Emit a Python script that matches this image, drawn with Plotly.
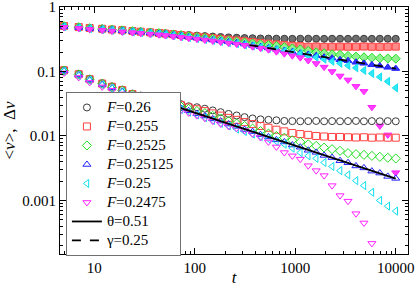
import plotly.graph_objects as go

# time points
t = [5, 7, 9, 12, 15, 19, 24, 29, 36, 44, 51, 61, 73, 87, 105, 126, 151, 181, 217, 261,
     313, 376, 451, 541, 649, 779, 935, 1122, 1346, 1615, 1938, 2326, 2791, 3349, 4019,
     4823, 5787, 6944, 8333, 10000]

F_labels = ["0.26", "0.255", "0.2525", "0.25125", "0.25", "0.2475"]

# <v> (lower family, open symbols)
avg_F026 = [0.106, 0.0922, 0.0772, 0.0660, 0.0588, 0.0523, 0.0454, 0.0423, 0.0395, 0.0370,
            0.0345, 0.0328, 0.0311, 0.0289, 0.0279, 0.0265, 0.0249, 0.0234, 0.0220, 0.0208,
            0.0196, 0.0187, 0.0181, 0.0178, 0.0175, 0.0171, 0.0170, 0.0169, 0.0170, 0.0171,
            0.0169, 0.0170, 0.0169, 0.0170, 0.0171, 0.0169, 0.0170, 0.0169, 0.0170, 0.0169]
avg_F0255 = [0.1043, 0.0906, 0.0759, 0.0649, 0.0578, 0.0514, 0.0446, 0.0412, 0.0386, 0.0362,
             0.0340, 0.0319, 0.0300, 0.0277, 0.0260, 0.0243, 0.0224, 0.0207, 0.0191, 0.0178,
             0.0164, 0.0153, 0.0143, 0.0134, 0.0125, 0.0118, 0.0111, 0.0107, 0.0104, 0.0100,
             0.00982, 0.00966, 0.00966, 0.00955, 0.00948, 0.00955, 0.00941, 0.00948, 0.00941, 0.00941]
avg_F02525 = [0.1036, 0.0899, 0.0753, 0.0643, 0.0568, 0.0505, 0.0440, 0.0405, 0.0378, 0.0356,
              0.0331, 0.0309, 0.0286, 0.0263, 0.0244, 0.0226, 0.0205, 0.0187, 0.0170, 0.0156,
              0.0143, 0.0130, 0.0119, 0.0109, 0.0100, 0.00941, 0.00859, 0.00809, 0.00745, 0.00702,
              0.00661, 0.00624, 0.00588, 0.00542, 0.00523, 0.00510, 0.00492, 0.00475, 0.00459, 0.00448]
avg_F025125 = [0.1025, 0.0884, 0.0740, 0.0631, 0.0557, 0.0492, 0.0428, 0.0394, 0.0368, 0.0346,
               0.0321, 0.0296, 0.0267, 0.0246, 0.0222, 0.0204, 0.0184, 0.0170, 0.0153, 0.0141,
               0.0126, 0.0117, 0.0105, 0.00970, 0.00872, 0.00808, 0.00724, 0.00670, 0.00600, 0.00557,
               0.00499, 0.00463, 0.00414, 0.00385, 0.00343, 0.00320, 0.00285, 0.00266, 0.00236, 0.00220]
avg_F025 = [0.1014, 0.0868, 0.0727, 0.0620, 0.0547, 0.0482, 0.0417, 0.0384, 0.0356, 0.0334,
            0.0313, 0.0284, 0.0258, 0.0234, 0.0212, 0.0192, 0.0174, 0.0157, 0.0143, 0.0128,
            0.0117, 0.0107, 0.00982, 0.00899, 0.00823, 0.00745, 0.00647, 0.00553, 0.00492, 0.00448,
            0.00388, 0.00337, 0.00290, 0.00249, 0.00203, 0.00170, 0.00134, 0.00100, 0.000817, 0.000684]
avg_F02475 = [0.0948, 0.0809, 0.0677, 0.0578, 0.0510, 0.0449, 0.0388, 0.0358, 0.0330, 0.0313,
              0.0294, 0.0277, 0.0251, 0.0228, 0.0207, 0.0188, 0.0170, 0.0154, 0.0141, 0.0132,
              0.0122, 0.0108, 0.00948, 0.00809, 0.00677, 0.00553, 0.00492, 0.00438, 0.00346, 0.00290,
              0.00243, 0.00170, 0.00119, 0.000976, 0.000624, 0.000448, 0.000216, None, None, None]

# Delta v (upper family, filled symbols)
dv_F026 = [0.510, 0.492, 0.475, 0.462, 0.451, 0.440, 0.428, 0.417, 0.407, 0.398,
           0.390, 0.382, 0.374, 0.367, 0.360, 0.354, 0.348, 0.343, 0.338, 0.334,
           0.330, 0.328, 0.325, 0.324, 0.323, 0.322, 0.321, 0.322, 0.323, 0.322,
           0.321, 0.322, 0.322, 0.321, 0.323, 0.322, 0.321, 0.322, 0.322, 0.321]
dv_F0255 = [0.507, 0.489, 0.472, 0.459, 0.447, 0.437, 0.424, 0.414, 0.404, 0.395,
            0.387, 0.378, 0.368, 0.358, 0.348, 0.338, 0.329, 0.320, 0.311, 0.302,
            0.294, 0.285, 0.277, 0.270, 0.262, 0.256, 0.251, 0.247, 0.242, 0.244,
            0.241, 0.242, 0.243, 0.242, 0.242, 0.244, 0.242, 0.241, 0.242, 0.243]
dv_F02525 = [0.503, 0.486, 0.469, 0.455, 0.444, 0.433, 0.421, 0.411, 0.401, 0.393,
             0.384, 0.374, 0.363, 0.352, 0.341, 0.330, 0.320, 0.310, 0.300, 0.290,
             0.281, 0.272, 0.264, 0.256, 0.248, 0.238, 0.228, 0.220, 0.208, 0.198,
             0.191, 0.185, 0.181, 0.174, 0.170, 0.166, 0.163, 0.160, 0.159, 0.158]
dv_F025125 = [0.499, 0.482, 0.465, 0.452, 0.441, 0.429, 0.417, 0.407, 0.397, 0.388,
              0.380, 0.368, 0.356, 0.343, 0.331, 0.320, 0.308, 0.298, 0.288, 0.279,
              0.266, 0.254, 0.242, 0.231, 0.221, 0.211, 0.202, 0.192, 0.184, 0.176,
              0.167, 0.161, 0.152, 0.147, 0.139, 0.134, 0.127, 0.122, 0.116, 0.111]
dv_F025 = [0.496, 0.479, 0.462, 0.449, 0.437, 0.424, 0.412, 0.402, 0.393, 0.384,
           0.374, 0.361, 0.348, 0.336, 0.324, 0.313, 0.302, 0.292, 0.280, 0.270,
           0.259, 0.249, 0.238, 0.227, 0.218, 0.207, 0.198, 0.188, 0.176, 0.166,
           0.155, 0.144, 0.134, 0.124, 0.114, 0.104, 0.0932, 0.0823, 0.0702, 0.0557]
dv_F02475 = [0.484, 0.467, 0.451, 0.437, 0.424, 0.412, 0.401, 0.390, 0.380, 0.371,
             0.362, 0.350, 0.339, 0.329, 0.318, 0.308, 0.298, 0.287, 0.276, 0.266,
             0.255, 0.242, 0.230, 0.218, 0.203, 0.189, 0.176, 0.164, 0.148, 0.133,
             0.117, 0.100, 0.0853, 0.0740, 0.0588, 0.0492, 0.0279, 0.0143, 0.0104, 0.00270]

# power-law guides
theta_t = [55, 10000]
theta_v = [0.0311, 0.00218]
gamma_t = [350, 10000]
gamma_v = [0.257, 0.111]

x_tickvals = [10, 100, 1000, 10000]
x_ticktext = ["10", "100", "1000", "10000"]
y_tickvals = [0.001, 0.01, 0.1, 1]
y_ticktext = ["0.001", "0.01", "0.1", "1"]
x_minor = [5, 6, 7, 8, 9, 20, 30, 40, 50, 60, 70, 80, 90, 200, 300, 400, 500, 600, 700, 800, 900,
           2000, 3000, 4000, 5000, 6000, 7000, 8000, 9000]
y_minor = [0.0002, 0.0003, 0.0004, 0.0005, 0.0006, 0.0007, 0.0008, 0.0009,
           0.002, 0.003, 0.004, 0.005, 0.006, 0.007, 0.008, 0.009,
           0.02, 0.03, 0.04, 0.05, 0.06, 0.07, 0.08, 0.09,
           0.2, 0.3, 0.4, 0.5, 0.6, 0.7, 0.8, 0.9]

avg_series = [avg_F026, avg_F0255, avg_F02525, avg_F025125, avg_F025, avg_F02475]
dv_series = [dv_F026, dv_F0255, dv_F02525, dv_F025125, dv_F025, dv_F02475]

symbols = ["circle", "square", "diamond", "triangle-up", "triangle-left", "triangle-down"]
colors = ["#3a3a3a", "#ff4040", "#22e022", "#2020ff", "#10e0f0", "#ff20ff"]
fills = ["#707070", "#ff8a8a", "#90f090", "#3030ff", "#30e8f8", "#ff40ff"]

SERIF = "Liberation Serif, Times New Roman, serif"
LEG = "<span style='font-size:15px'>{}</span>"

fig = go.Figure()

for dv, sym, col, fc in zip(dv_series, symbols, colors, fills):
    fig.add_trace(go.Scatter(
        x=t, y=dv, mode="markers", showlegend=False,
        marker=dict(symbol=sym, size=7, color=fc, line=dict(color=col, width=1))))

for avg, sym, col, lab in zip(avg_series, symbols, colors, F_labels):
    fig.add_trace(go.Scatter(
        x=t, y=avg, mode="markers", name=LEG.format("<i>F</i>=" + lab),
        marker=dict(symbol=sym + "-open", size=7, color=col, line=dict(color=col, width=1))))

fig.add_trace(go.Scatter(x=theta_t, y=theta_v, mode="lines", name=LEG.format("\u03b8=0.51"),
                         line=dict(color="black", width=1.8)))
fig.add_trace(go.Scatter(x=gamma_t, y=gamma_v, mode="lines", name=LEG.format("\u03b3=0.25"),
                         line=dict(color="black", width=1.8, dash="dash")))

axis_common = dict(
    showgrid=False, zeroline=False, showline=True, linecolor="black", linewidth=1,
    mirror="allticks", ticks="inside", ticklen=6, tickwidth=1, tickcolor="black",
    tickfont=dict(family=SERIF, size=15, color="black"), ticklabeloverflow="allow",
)

fig.update_xaxes(type="log", range=[0.659, 4.122], tickmode="array",
                 tickvals=x_tickvals, ticktext=x_ticktext,
                 minor=dict(tickmode="array", tickvals=x_minor, ticks="inside", ticklen=3,
                            tickcolor="black", tickwidth=1),
                 title=dict(text="<i>t</i>", font=dict(family=SERIF, size=17, color="black"),
                            standoff=5),
                 **axis_common)
fig.update_yaxes(type="log", range=[-3.83, 0], tickmode="array",
                 tickvals=y_tickvals, ticktext=y_ticktext,
                 minor=dict(tickmode="array", tickvals=y_minor, ticks="inside", ticklen=3,
                            tickcolor="black", tickwidth=1),
                 title=dict(text="&lt;<i>v</i>&gt;,  \u0394<i>v</i>",
                            font=dict(family=SERIF, size=17, color="black"), standoff=6),
                 **axis_common)

fig.update_layout(
    width=417, height=287,
    margin=dict(l=60, r=9, t=7, b=33, autoexpand=False),
    paper_bgcolor="white", plot_bgcolor="white",
    font=dict(family=SERIF, color="black"),
    legend=dict(x=0.017, y=0.656, xanchor="left", yanchor="top",
                bgcolor="white", bordercolor="#707070", borderwidth=1,
                font=dict(family=SERIF, size=12, color="black"),
                itemwidth=30, tracegroupgap=0),
)

fig.write_html("out.html", config={"displayModeBar": False},
               post_script="document.body.style.margin='0';")
